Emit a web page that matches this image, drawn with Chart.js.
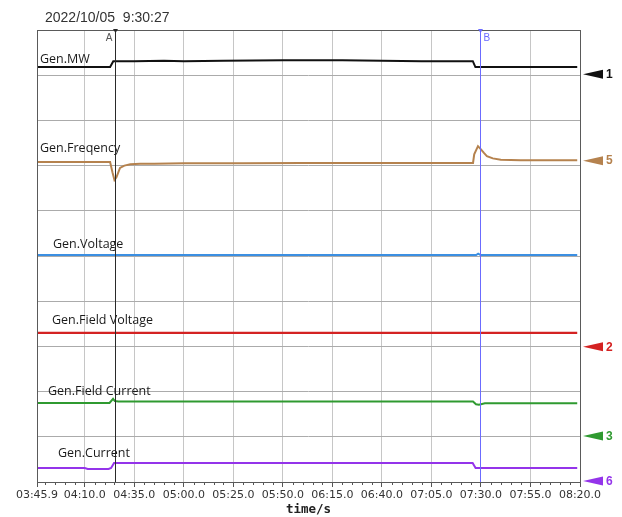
<!DOCTYPE html>
<html>
<head>
<meta charset="utf-8">
<script src="https://cdn.jsdelivr.net/npm/chart.js@4/dist/chart.umd.min.js"></script>
<style>
  html, body { margin: 0; padding: 0; background: #fff; }
  canvas { display: block; }
</style>
</head>
<body>
<canvas id="rec" width="622" height="517"></canvas>
<script>
// Recorder trace, x in seconds, y in grid divisions (0..10, bottom to top)
const recordStamp = '2022/10/05  9:30:27';
const timeMin = 225.9;
const timeMax = 500;
const majorTicks = [225.9, 250, 275, 300, 325, 350, 375, 400, 425, 450, 475, 500];
const minorTicks = [230, 235, 240, 245, 255, 260, 265, 270, 280, 285, 290, 295, 305, 310, 315, 320,
  330, 335, 340, 345, 355, 360, 365, 370, 380, 385, 390, 395, 405, 410, 415, 420,
  430, 435, 440, 445, 455, 460, 465, 470, 480, 485, 490, 495];
const cursorA = 265.3;
const cursorB = 449.3;

const mwTime = [225.9, 262.8, 264.4, 275, 290, 300, 320, 350, 380, 400, 420, 440, 445.9, 447.2, 498.6];
const mwVal  = [9.18, 9.18, 9.31, 9.31, 9.32, 9.31, 9.32, 9.33, 9.33, 9.32, 9.31, 9.31, 9.31, 9.18, 9.18];

const freqTime = [225.9, 240, 255, 262.8, 264.0, 265.0, 266.0, 267.8, 270, 273, 278, 285, 300, 330, 360, 390, 420, 440,
  446.0, 446.6, 448.5, 450.0, 451.5, 453.0, 456.0, 460.0, 470.0, 485.0, 498.6];
const freqVal  = [7.08, 7.08, 7.08, 7.08, 6.85, 6.68, 6.74, 6.95, 7.00, 7.03, 7.04, 7.04, 7.05, 7.05, 7.06, 7.06, 7.06, 7.06,
  7.06, 7.25, 7.43, 7.36, 7.28, 7.21, 7.16, 7.13, 7.12, 7.12, 7.12];

const voltTime = [225.9, 447.6, 448.6, 449.8, 498.6];
const voltVal  = [5.02, 5.02, 5.05, 5.02, 5.02];

const fieldVoltTime = [225.9, 498.6];
const fieldVoltVal  = [3.30, 3.30];

const fieldCurTime = [225.9, 262.5, 264.3, 265.2, 267, 446, 447.5, 449, 452, 498.6];
const fieldCurVal  = [1.75, 1.75, 1.84, 1.79, 1.78, 1.78, 1.72, 1.71, 1.74, 1.74];

const curTime = [225.9, 250, 251.5, 262, 263.3, 264.8, 445.8, 447.3, 498.6];
const curVal  = [0.31, 0.31, 0.29, 0.29, 0.31, 0.42, 0.42, 0.31, 0.31];

// channel reference levels shown by the arrows on the right
const channelLevels = [9.02, 7.11, 2.99, 1.02, 0.02];
const channelNumbers = ['1', '5', '2', '3', '6'];

const seriesNames = ['Gen.MW', 'Gen.Freqency', 'Gen.Voltage', 'Gen.Field Voltage', 'Gen.Field Current', 'Gen.Current'];

const COLORS = {
  mw: '#111111', freq: '#b5824e', volt: '#3b8fe2', fvolt: '#d42222', fcur: '#2f9a30', cur: '#9434ea'
};

function pts(t, v) { return t.map((x, i) => ({ x: x, y: v[i] })); }

function fmtTime(s) {
  const m = Math.floor(s / 60 + 1e-9);
  const r = s - m * 60;
  return String(m).padStart(2, '0') + ':' + r.toFixed(1).padStart(4, '0');
}

const traceStyle = { pointRadius: 0, borderWidth: 2, tension: 0, fill: false };

const overlay = {
  id: 'overlay',
  beforeDraw(chart) {
    const c = chart.ctx;
    c.save();
    c.fillStyle = '#fff';
    c.fillRect(0, 0, chart.width, chart.height);
    c.restore();
  },
  afterDatasetsDraw(chart) {
    const c = chart.ctx;
    const a = chart.chartArea;
    const xs = chart.scales.x, ys = chart.scales.y;
    c.save();

    // minor ticks along the time axis
    c.strokeStyle = '#555';
    c.lineWidth = 1;
    c.beginPath();
    minorTicks.forEach(t => {
      const px = Math.round(xs.getPixelForValue(t)) + 0.5;
      c.moveTo(px, a.bottom);
      c.lineTo(px, a.bottom + 3);
    });
    c.stroke();

    // plot frame
    c.strokeStyle = '#5a5a5a';
    c.strokeRect(Math.round(a.left) + 0.5, Math.round(a.top) + 0.5,
      Math.round(a.right - a.left), Math.round(a.bottom - a.top));

    // cursors
    const cur = [
      { t: cursorA, color: '#2a2a2a', text: 'A', textColor: '#555', side: -1 },
      { t: cursorB, color: '#6b6bff', text: 'B', textColor: '#6b6bff', side: 1 }
    ];
    cur.forEach(k => {
      const px = Math.round(xs.getPixelForValue(k.t)) + 0.5;
      c.strokeStyle = k.color;
      c.lineWidth = 1;
      c.beginPath();
      c.moveTo(px, a.top);
      c.lineTo(px, a.bottom);
      c.stroke();
      c.fillStyle = k.color;
      c.beginPath();
      c.moveTo(px - 2.5, a.top - 1);
      c.lineTo(px + 2.5, a.top - 1);
      c.lineTo(px, a.top + 3);
      c.closePath();
      c.fill();
      c.fillStyle = k.textColor;
      c.font = '10px "Liberation Sans"';
      c.textBaseline = 'middle';
      c.textAlign = k.side < 0 ? 'right' : 'left';
      c.fillText(k.text, px + k.side * 3, a.top + 8);
    });

    // channel arrows and numbers
    const arrowColors = [COLORS.mw, COLORS.freq, COLORS.fvolt, COLORS.fcur, COLORS.cur];
    channelLevels.forEach((lv, i) => {
      const py = ys.getPixelForValue(lv);
      const tip = a.right + 3;
      c.fillStyle = arrowColors[i];
      c.beginPath();
      c.moveTo(tip, py);
      c.lineTo(tip + 20, py - 4.5);
      c.lineTo(tip + 20, py + 4.5);
      c.closePath();
      c.fill();
      c.font = 'bold 12px "Liberation Sans"';
      c.textAlign = 'left';
      c.textBaseline = 'middle';
      c.fillText(channelNumbers[i], tip + 23, py + 0.5);
    });

    // trace names
    const nameSpots = [[40, 59], [40, 148], [53, 244], [52, 320], [48, 391], [58, 453]];
    c.fillStyle = '#1a1a1a';
    c.font = '12.5px "Open Sans"';
    c.textAlign = 'left';
    c.textBaseline = 'middle';
    seriesNames.forEach((n, i) => c.fillText(n, nameSpots[i][0], nameSpots[i][1]));

    // record time stamp
    c.fillStyle = '#333';
    c.font = '14px "Liberation Sans"';
    c.textBaseline = 'middle';
    c.fillText(recordStamp, 45, 18);

    c.restore();
  }
};

new Chart(document.getElementById('rec'), {
  type: 'line',
  data: {
    datasets: [
      { label: seriesNames[0], data: pts(mwTime, mwVal), borderColor: COLORS.mw, ...traceStyle },
      { label: seriesNames[1], data: pts(freqTime, freqVal), borderColor: COLORS.freq, ...traceStyle },
      { label: seriesNames[2], data: pts(voltTime, voltVal), borderColor: COLORS.volt, ...traceStyle },
      { label: seriesNames[3], data: pts(fieldVoltTime, fieldVoltVal), borderColor: COLORS.fvolt, ...traceStyle, borderWidth: 2.4 },
      { label: seriesNames[4], data: pts(fieldCurTime, fieldCurVal), borderColor: COLORS.fcur, ...traceStyle },
      { label: seriesNames[5], data: pts(curTime, curVal), borderColor: COLORS.cur, ...traceStyle }
    ]
  },
  options: {
    responsive: false,
    animation: false,
    layout: { padding: { left: 37, right: 42, top: 30, bottom: 0 } },
    plugins: { legend: { display: false }, tooltip: { enabled: false }, title: { display: false } },
    scales: {
      x: {
        type: 'linear',
        min: timeMin,
        max: timeMax,
        afterBuildTicks(axis) { axis.ticks = majorTicks.map(v => ({ value: v })); },
        afterFit(axis) { axis.height = 35; },
        ticks: {
          autoSkip: false,
          maxRotation: 0,
          padding: 2,
          color: '#333',
          font: { family: 'DejaVu Sans', size: 11 },
          callback: v => fmtTime(v)
        },
        grid: { color: '#c6c6c6', tickColor: '#555', tickLength: 5, lineWidth: 1 },
        border: { display: false },
        title: {
          display: true,
          text: 'time/s',
          color: '#222',
          font: { family: 'DejaVu Sans Mono', size: 12.5, weight: 'bold' },
          padding: { top: 0, bottom: 0 }
        }
      },
      y: {
        type: 'linear',
        min: 0,
        max: 10,
        ticks: { display: false, stepSize: 1 },
        grid: { color: '#ababab', drawTicks: false, lineWidth: 1 },
        border: { display: false }
      }
    }
  },
  plugins: [overlay]
});
</script>
</body>
</html>
